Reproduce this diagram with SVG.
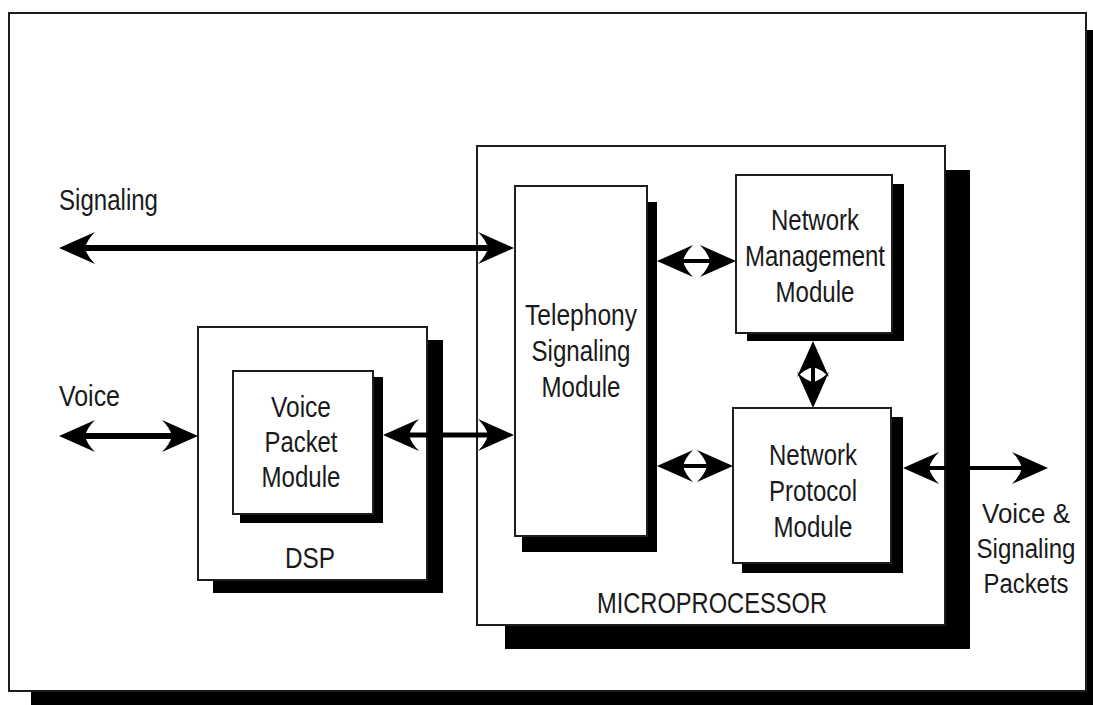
<svg xmlns="http://www.w3.org/2000/svg" width="1093" height="705" viewBox="0 0 1093 705">
  <style>
    .box { fill: #ffffff; stroke: #1e1e1e; stroke-width: 2; }
    .shadow { fill: #000000; stroke: none; }
    .lbl { font-family: "Liberation Sans", Arial, sans-serif; font-size: 29px; fill: #1a1a1a; }
    .small { font-size: 27px; }
    .mid { text-anchor: middle; }
    .link { stroke: #000000; fill: none; marker-start: url(#head); marker-end: url(#head); }
  </style>
  <defs>
    <!-- filled arrowhead with swept-back barbs; tip lies 24px beyond the line end -->
    <marker id="head" viewBox="0 0 36 32" refX="12" refY="16" markerWidth="36" markerHeight="32"
            markerUnits="userSpaceOnUse" orient="auto-start-reverse">
      <path d="M36,16 L0,0 Q8,8 10,16 Q8,24 0,32 Z" fill="#000000"/>
    </marker>
  </defs>

  <rect width="1093" height="705" fill="#ffffff"/>

  <!-- outer frame -->
  <g id="frame">
    <rect class="shadow" x="31" y="30" width="1062" height="675"/>
    <rect class="box" x="9" y="13" width="1077" height="678" stroke="#444"/>
  </g>

  <!-- DSP with the voice packet module inside -->
  <g id="dsp">
    <rect class="shadow" x="213" y="340" width="230" height="253"/>
    <rect class="box" x="198" y="327" width="229" height="253"/>
    <text class="lbl mid" x="310" y="568" textLength="50" lengthAdjust="spacingAndGlyphs">DSP</text>
  </g>
  <g id="voice-packet-module">
    <rect class="shadow" x="240" y="377" width="143" height="146"/>
    <rect class="box" x="233" y="371" width="140" height="143"/>
    <text class="lbl mid" x="301" y="417" textLength="60" lengthAdjust="spacingAndGlyphs">Voice</text>
    <text class="lbl mid" x="301" y="452" textLength="73" lengthAdjust="spacingAndGlyphs">Packet</text>
    <text class="lbl mid" x="301" y="487" textLength="79" lengthAdjust="spacingAndGlyphs">Module</text>
  </g>

  <!-- microprocessor and its modules -->
  <g id="microprocessor">
    <rect class="shadow" x="505" y="170" width="465" height="479"/>
    <rect class="box" x="477" y="146" width="468" height="479"/>
    <text class="lbl mid" x="712" y="613" textLength="230" lengthAdjust="spacingAndGlyphs">MICROPROCESSOR</text>
  </g>
  <g id="telephony-signaling-module">
    <rect class="shadow" x="522" y="202" width="135" height="350"/>
    <rect class="box" x="515" y="186" width="132" height="350"/>
    <text class="lbl mid" x="581" y="325" textLength="112" lengthAdjust="spacingAndGlyphs">Telephony</text>
    <text class="lbl mid" x="581" y="361" textLength="99" lengthAdjust="spacingAndGlyphs">Signaling</text>
    <text class="lbl mid" x="581" y="397" textLength="79" lengthAdjust="spacingAndGlyphs">Module</text>
  </g>
  <g id="network-management-module">
    <rect class="shadow" x="747" y="184" width="157" height="157"/>
    <rect class="box" x="736" y="175" width="156" height="158"/>
    <text class="lbl mid" x="815" y="230" textLength="88" lengthAdjust="spacingAndGlyphs">Network</text>
    <text class="lbl mid" x="815" y="266" textLength="140" lengthAdjust="spacingAndGlyphs">Management</text>
    <text class="lbl mid" x="815" y="302" textLength="79" lengthAdjust="spacingAndGlyphs">Module</text>
  </g>
  <g id="network-protocol-module">
    <rect class="shadow" x="742" y="417" width="161" height="156"/>
    <rect class="box" x="733" y="408" width="158" height="155"/>
    <text class="lbl mid" x="813" y="465" textLength="88" lengthAdjust="spacingAndGlyphs">Network</text>
    <text class="lbl mid" x="813" y="501" textLength="88" lengthAdjust="spacingAndGlyphs">Protocol</text>
    <text class="lbl mid" x="813" y="537" textLength="79" lengthAdjust="spacingAndGlyphs">Module</text>
  </g>

  <!-- external interface labels -->
  <g id="labels">
    <text class="lbl" x="59" y="210" textLength="99" lengthAdjust="spacingAndGlyphs">Signaling</text>
    <text class="lbl" x="59" y="406" textLength="61" lengthAdjust="spacingAndGlyphs">Voice</text>
    <text class="lbl small mid" x="1026" y="523" textLength="88" lengthAdjust="spacingAndGlyphs">Voice &amp;</text>
    <text class="lbl small mid" x="1026" y="558" textLength="99" lengthAdjust="spacingAndGlyphs">Signaling</text>
    <text class="lbl small mid" x="1026" y="593" textLength="85" lengthAdjust="spacingAndGlyphs">Packets</text>
  </g>

  <!-- connectors: every link is bidirectional -->
  <g id="connectors">
    <line class="link" x1="83" y1="248" x2="490" y2="248" stroke-width="6"/>
    <line class="link" x1="83" y1="436" x2="174" y2="436" stroke-width="6"/>
    <line class="link" x1="407" y1="435" x2="490" y2="435" stroke-width="5"/>
    <line class="link" x1="681" y1="261" x2="712" y2="261" stroke-width="4"/>
    <line class="link" x1="813" y1="365" x2="813" y2="384" stroke-width="4"/>
    <line class="link" x1="681" y1="466" x2="709" y2="466" stroke-width="4"/>
    <line class="link" x1="927" y1="468" x2="1024" y2="468" stroke-width="4"/>
  </g>
</svg>
